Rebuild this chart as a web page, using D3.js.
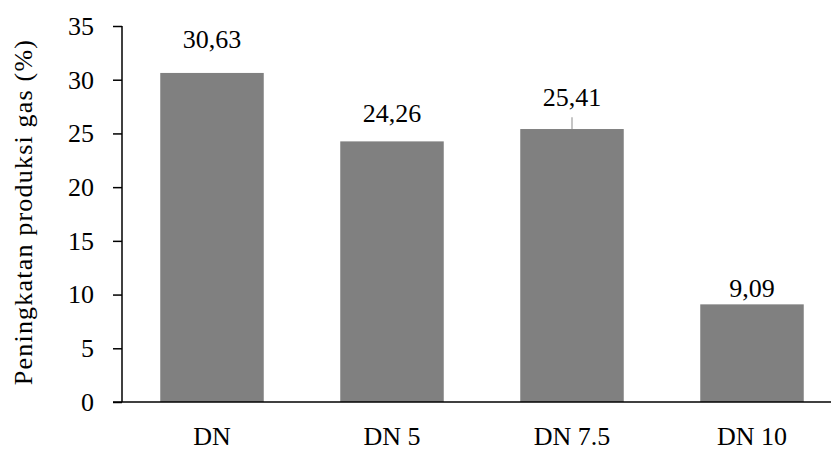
<!DOCTYPE html>
<html>
<head>
<meta charset="utf-8">
<script src="https://cdn.jsdelivr.net/npm/d3@7"></script>
<style>
  html, body { margin: 0; padding: 0; background: #fff; }
  svg { display: block; }
  text { font-family: "Liberation Serif", "DejaVu Serif", serif; fill: #000; }
</style>
</head>
<body>
<svg id="chart" width="831" height="450"></svg>
<script>
// Gas production increase per treatment
const categories = ["DN", "DN 5", "DN 7.5", "DN 10"];
const values = [30.63, 24.26, 25.41, 9.09];
const errors = [0, 0, 1.1, 0];
const valueLabels = ["30,63", "24,26", "25,41", "9,09"];
const yTicks = [0, 5, 10, 15, 20, 25, 30, 35];

// vertical gap between the bar top and its value label baseline (px)
const labelGap = [25, 19, 23, 7];

const svg = d3.select("#chart");
const margin = { left: 122, top: 26, bottom: 402 };
const plotRight = 842;

const x = d3.scaleBand()
  .domain(categories)
  .range([margin.left, plotRight])
  .paddingInner(0.425)
  .paddingOuter(0.2125);

const y = d3.scaleLinear().domain([0, 35]).range([margin.bottom, margin.top]);

const fontSize = 26;

// bars
svg.append("g").selectAll("rect")
  .data(values)
  .join("rect")
  .attr("x", (d, i) => x(categories[i]))
  .attr("y", d => y(d))
  .attr("width", x.bandwidth())
  .attr("height", d => y(0) - y(d))
  .attr("fill", "#808080");

// error bars
svg.append("g").selectAll("line")
  .data(values.map((v, i) => ({ v, e: errors[i], c: categories[i] })).filter(d => d.e > 0))
  .join("line")
  .attr("x1", d => x(d.c) + x.bandwidth() / 2)
  .attr("x2", d => x(d.c) + x.bandwidth() / 2)
  .attr("y1", d => y(d.v))
  .attr("y2", d => y(d.v + d.e))
  .attr("stroke", "#a6a6a6")
  .attr("stroke-width", 1.3);

// value labels
svg.append("g").selectAll("text")
  .data(values)
  .join("text")
  .attr("x", (d, i) => x(categories[i]) + x.bandwidth() / 2)
  .attr("y", (d, i) => y(d) - labelGap[i])
  .attr("text-anchor", "middle")
  .attr("font-size", fontSize)
  .text((d, i) => valueLabels[i]);

// y axis
const yAxis = d3.axisLeft(y).tickValues(yTicks).tickSize(9).tickPadding(19).tickFormat(d3.format("d"));
const gy = svg.append("g").attr("transform", `translate(${margin.left},0)`).call(yAxis);
gy.select(".domain").attr("d", `M0,${y(35)}V${y(0)}`).attr("stroke", "#000").attr("stroke-width", 1.5);
gy.selectAll(".tick line").attr("stroke", "#000").attr("stroke-width", 1.5);
gy.selectAll(".tick text").attr("font-size", fontSize).attr("font-family", "Liberation Serif").attr("fill", "#000");

// x axis
const xAxis = d3.axisBottom(x).tickSize(0).tickPadding(25);
const gx = svg.append("g").attr("transform", `translate(0,${y(0)})`).call(xAxis);
gx.select(".domain").attr("d", `M113,0H831`).attr("stroke", "#000").attr("stroke-width", 1.5);
gx.selectAll(".tick text").attr("font-size", fontSize).attr("font-family", "Liberation Serif").attr("fill", "#000");

// y axis title
svg.append("text")
  .attr("transform", `translate(32,212) rotate(-90)`)
  .attr("text-anchor", "middle")
  .attr("font-size", fontSize)
  .attr("letter-spacing", 1.2)
  .text("Peningkatan produksi gas (%)");
</script>
</body>
</html>
